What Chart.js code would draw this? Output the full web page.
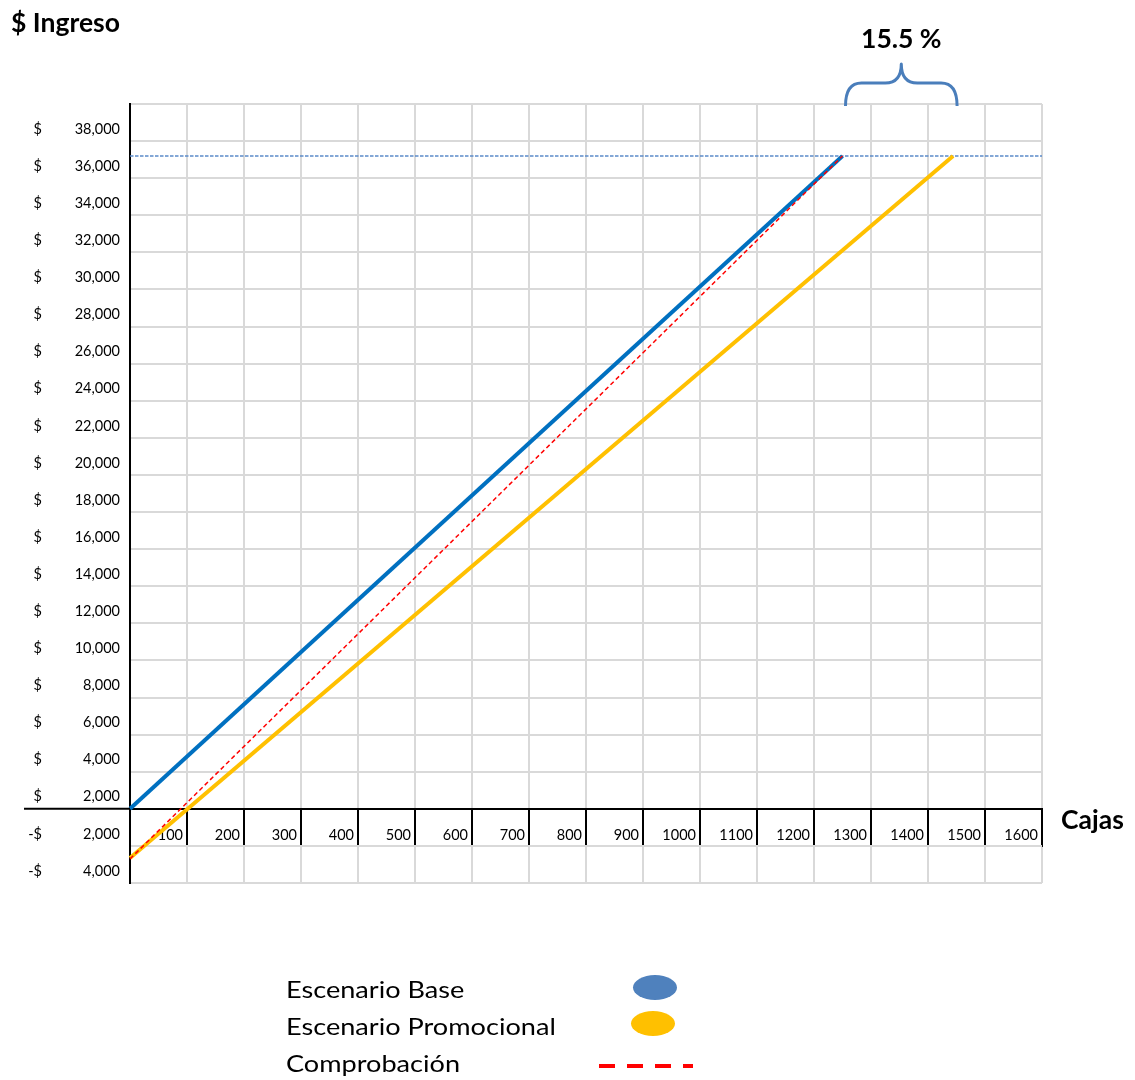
<!DOCTYPE html>
<html lang="es">
<head>
<meta charset="utf-8">
<title>Ingreso por cajas</title>
<script src="https://cdn.jsdelivr.net/npm/chart.js@4.4.1/dist/chart.umd.min.js"></script>
<style>
  html, body { margin: 0; padding: 0; background: #fff; }
  #chart { display: block; }
</style>
</head>
<body>
<canvas id="chart" width="1135" height="1080"></canvas>
<script>
// cajas vendidas e ingreso ($) de cada escenario
const baseBoxes = [0, 1250];
const baseRevenue = [0, 35200];
const promoBoxes = [0, 1444];
const promoRevenue = [-2650, 35200];
const checkBoxes = [0, 1250];
const checkRevenue = [-2700, 35200];
const targetBoxes = [0, 1600];
const targetRevenue = [35200, 35200];

// columna de ingreso, de arriba hacia abajo
const yTickLabels = [
  "38,000", "36,000", "34,000", "32,000", "30,000", "28,000", "26,000",
  "24,000", "22,000", "20,000", "18,000", "16,000", "14,000", "12,000",
  "10,000", "8,000", "6,000", "4,000", "2,000", "-2,000", "-4,000"
];
const xTickLabels = [
  "", "100", "200", "300", "400", "500", "600", "700", "800",
  "900", "1000", "1100", "1200", "1300", "1400", "1500", "1600"
];
const legendLabels = ["Escenario Base", "Escenario Promocional", "Comprobación"];

const colors = {
  base: "#0070C0",
  promo: "#FFC000",
  check: "#FF0000",
  target: "#5B8AC9",
  brace: "#4A7EBB",
  baseDot: "#4F81BD",
  grid: "#D9D9D9"
};

const toPoints = (xs, ys) => xs.map((x, i) => ({ x: x, y: ys[i] }));

// textos, llave y leyenda dibujados encima del área del gráfico
const sheetDecor = {
  id: "sheetDecor",
  afterDraw(chart) {
    const { ctx } = chart;
    const x = chart.scales.x;
    const y = chart.scales.y;
    const zeroY = y.getPixelForValue(0);
    ctx.save();

    // la línea de cero sigue bajo la columna de montos
    ctx.strokeStyle = "#000";
    ctx.lineWidth = 2;
    ctx.beginPath();
    ctx.moveTo(24, zeroY);
    ctx.lineTo(x.left, zeroY);
    ctx.stroke();

    // montos en formato contable: signo a la izquierda, cifra a la derecha
    ctx.fillStyle = "#000";
    ctx.font = "14.5px Lato";
    ctx.textBaseline = "middle";
    const rows = y.ticks.slice(0, yTickLabels.length).reverse();
    yTickLabels.forEach((label, i) => {
      const py = y.getPixelForValue(rows[i].value) - 12;
      const negative = label.startsWith("-");
      ctx.textAlign = "right";
      ctx.fillText(negative ? "-$" : "$", 42, py);
      ctx.fillText(negative ? label.slice(1) : label, 120, py);
    });

    // títulos de los ejes
    ctx.font = "bold 26.5px Lato";
    ctx.textBaseline = "alphabetic";
    ctx.textAlign = "left";
    ctx.fillText("$ Ingreso", 11, 32);
    ctx.fillText("Cajas", 1061, 829);

    // llave entre el final de ambos escenarios
    const x1 = x.getPixelForValue(baseBoxes[1]) + 3;
    const x2 = x.getPixelForValue(promoBoxes[1]) + 4;
    const xc = (x1 + x2) / 2;
    const yb = 106, yh = 83, yt = 64, r = 16;
    ctx.strokeStyle = colors.brace;
    ctx.lineWidth = 3;
    ctx.lineJoin = "round";
    ctx.beginPath();
    ctx.moveTo(x1, yb);
    ctx.quadraticCurveTo(x1, yh, x1 + r, yh);
    ctx.lineTo(xc - r, yh);
    ctx.quadraticCurveTo(xc, yh, xc, yt);
    ctx.quadraticCurveTo(xc, yh, xc + r, yh);
    ctx.lineTo(x2 - r, yh);
    ctx.quadraticCurveTo(x2, yh, x2, yb);
    ctx.stroke();

    const pct = ((promoBoxes[1] / baseBoxes[1] - 1) * 100).toFixed(1);
    ctx.textAlign = "center";
    ctx.fillText(pct + " %", xc, 48);

    // leyenda (texto algo ensanchado)
    ctx.font = "24px Lato";
    ctx.textAlign = "left";
    const rowY = [998, 1034.5, 1072];
    const stretch = 1.13;
    legendLabels.forEach((label, i) => {
      ctx.save();
      ctx.translate(286, rowY[i]);
      ctx.scale(stretch, 1);
      ctx.fillText(label, 0, 0);
      ctx.restore();
    });

    ctx.fillStyle = colors.baseDot;
    ctx.beginPath();
    ctx.ellipse(655, 987.5, 22, 12.5, 0, 0, Math.PI * 2);
    ctx.fill();
    ctx.fillStyle = colors.promo;
    ctx.beginPath();
    ctx.ellipse(653, 1023.5, 22, 12.5, 0, 0, Math.PI * 2);
    ctx.fill();

    ctx.strokeStyle = colors.check;
    ctx.lineWidth = 4;
    ctx.setLineDash([16, 12]);
    ctx.beginPath();
    ctx.moveTo(599, 1066);
    ctx.lineTo(693, 1066);
    ctx.stroke();

    ctx.restore();
  }
};

function build() {
  new Chart(document.getElementById("chart").getContext("2d"), {
    type: "line",
    data: {
      datasets: [
        {
          label: legendLabels[2],
          data: toPoints(checkBoxes, checkRevenue),
          borderColor: colors.check,
          borderWidth: 1.5,
          borderDash: [4.5, 3],
          order: 0
        },
        {
          label: legendLabels[0],
          data: toPoints(baseBoxes, baseRevenue),
          borderColor: colors.base,
          borderWidth: 4,
          order: 1
        },
        {
          label: legendLabels[1],
          data: toPoints(promoBoxes, promoRevenue),
          borderColor: colors.promo,
          borderWidth: 4,
          order: 2
        },
        {
          label: "meta",
          data: toPoints(targetBoxes, targetRevenue),
          borderColor: colors.target,
          borderWidth: 1.4,
          borderDash: [3.5, 1.5],
          order: 3
        }
      ]
    },
    options: {
      responsive: false,
      animation: false,
      events: [],
      layout: { padding: { top: 104, right: 93, bottom: 197, left: 0 } },
      elements: {
        point: { radius: 0 },
        line: { tension: 0, fill: false }
      },
      datasets: { line: { clip: false } },
      plugins: {
        legend: { display: false },
        tooltip: { enabled: false },
        title: { display: false }
      },
      scales: {
        x: {
          type: "linear",
          min: 0,
          max: 1600,
          position: { y: 0 },
          ticks: {
            stepSize: 100,
            autoSkip: false,
            maxRotation: 0,
            align: "end",
            labelOffset: -4,
            padding: -19,
            color: "#000",
            font: { family: "Lato", size: 14.5 },
            callback: (value, index) => xTickLabels[index]
          },
          grid: {
            color: (c) => (c.tick && c.tick.value === 0 ? "#000" : colors.grid),
            lineWidth: 2,
            tickLength: 37,
            tickColor: "#000",
            tickWidth: 2
          },
          border: { display: true, color: "#000", width: 2 }
        },
        y: {
          type: "linear",
          min: -4000,
          max: 38000,
          ticks: { stepSize: 2000, display: false },
          grid: {
            color: (c) => (c.tick && c.tick.value === 0 ? "#000" : colors.grid),
            lineWidth: 2,
            drawTicks: false
          },
          border: { display: true, color: "#000", width: 2 },
          afterFit(scale) {
            scale.width = 130;
          }
        }
      }
    },
    plugins: [sheetDecor]
  });
}

Promise.all([
  document.fonts.load("14.5px Lato"),
  document.fonts.load("24px Lato"),
  document.fonts.load("bold 26.5px Lato")
]).then(build, build);
</script>
</body>
</html>
